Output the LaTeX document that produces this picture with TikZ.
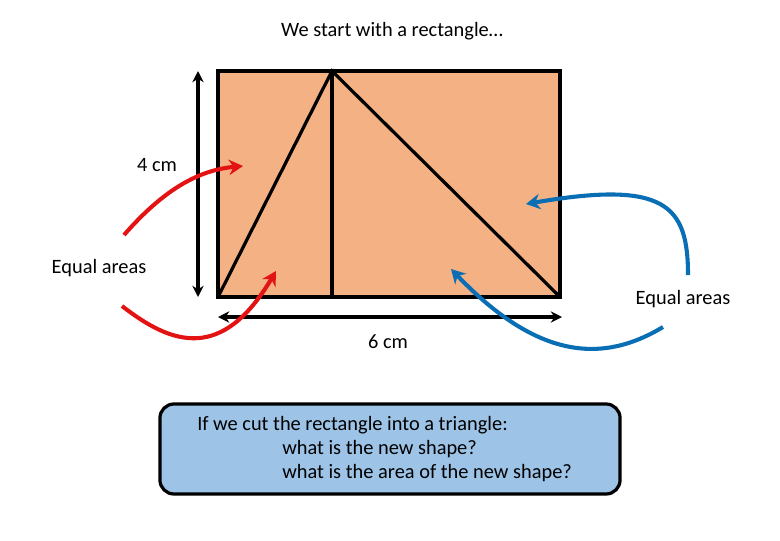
\documentclass[tikz,border=0pt]{standalone}
\usepackage{fontspec}
\setmainfont{Carlito}
\usepackage{xcolor}
\usetikzlibrary{arrows.meta, positioning, calc}

\definecolor{rectfill}{HTML}{F4B183}
\definecolor{boxfill}{HTML}{9DC3E6}
\definecolor{redarr}{HTML}{E41313}
\definecolor{bluearr}{HTML}{0A6EB4}

\tikzset{
  edge/.style={line width=2.3pt, line cap=round},
  dim/.style={line width=2.3pt, {Stealth[length=8pt,width=8pt]}-{Stealth[length=8pt,width=8pt]}},
  hint/.style={line width=2.9pt, -{Stealth[length=10pt,width=11pt]}},
  lbl/.style={font=\fontsize{14.5}{17}\selectfont, inner sep=0pt},
}

\begin{document}
\begin{tikzpicture}[x=0.025cm, y=-0.025cm]
  \useasboundingbox (0,0) rectangle (780,540);

  % the rectangle and its cut
  \coordinate (bl) at (218,297);
  \coordinate (tr) at (560,71);
  \coordinate (apex) at (332,71);
  \coordinate (foot) at (332,297);
  \fill[rectfill] (bl) rectangle (tr);
  \draw[edge] (bl) rectangle (tr);
  \draw[edge] (bl) -- (apex) -- (bl -| tr);
  \draw[edge] (apex) -- (foot);

  % dimensions
  \coordinate (vtop) at (198,71);
  \coordinate (vbot) at (198,297);
  \coordinate (hl) at (218,317);
  \coordinate (hr) at (562,317);
  \draw[dim] (vtop) -- (vbot);
  \draw[dim] (hl) -- (hr);
  \node[lbl] (h) at (157,165) {4 cm};
  \node[lbl] (w) at (388,342) {6 cm};

  \node[lbl] (title) at (392,31) {We start with a rectangle…};
  \node[lbl] (eqleft) at (99,268) {Equal areas};
  \node[lbl] (eqright) at (683,299) {Equal areas};

  % red arrows
  \coordinate (r1s) at (124,235);
  \coordinate (r1e) at (243,166);
  \coordinate (r2s) at (122,306);
  \coordinate (r2e) at (276,271);
  \draw[hint, redarr] (r1s) .. controls (165,188) and (200,170) .. (r1e);
  \draw[hint, redarr] (r2s) .. controls (172,345) and (222,362) .. (r2e);

  % blue arrows
  \coordinate (b1s) at (688,275);
  \coordinate (b1e) at (526,204);
  \coordinate (b2s) at (663,327);
  \coordinate (b2e) at (451,269);
  \draw[hint, bluearr] (b1s) .. controls (688,205) and (665,180) .. (b1e);
  \draw[hint, bluearr] (b2s) .. controls (605,362) and (540,362) .. (b2e);

  % question box
  \node[draw, line width=2.3pt, fill=boxfill, rounded corners=10pt,
        minimum width=11.5cm, minimum height=2.25cm] (box) at (390,449) {};
  \node[lbl, anchor=base west] (q1) at (197,430) {If we cut the rectangle into a triangle:};
  \node[lbl, anchor=base west] (q2) at (282,454) {what is the new shape?};
  \node[lbl, anchor=base west] (q3) at (282,478) {what is the area of the new shape?};
\end{tikzpicture}
\end{document}
